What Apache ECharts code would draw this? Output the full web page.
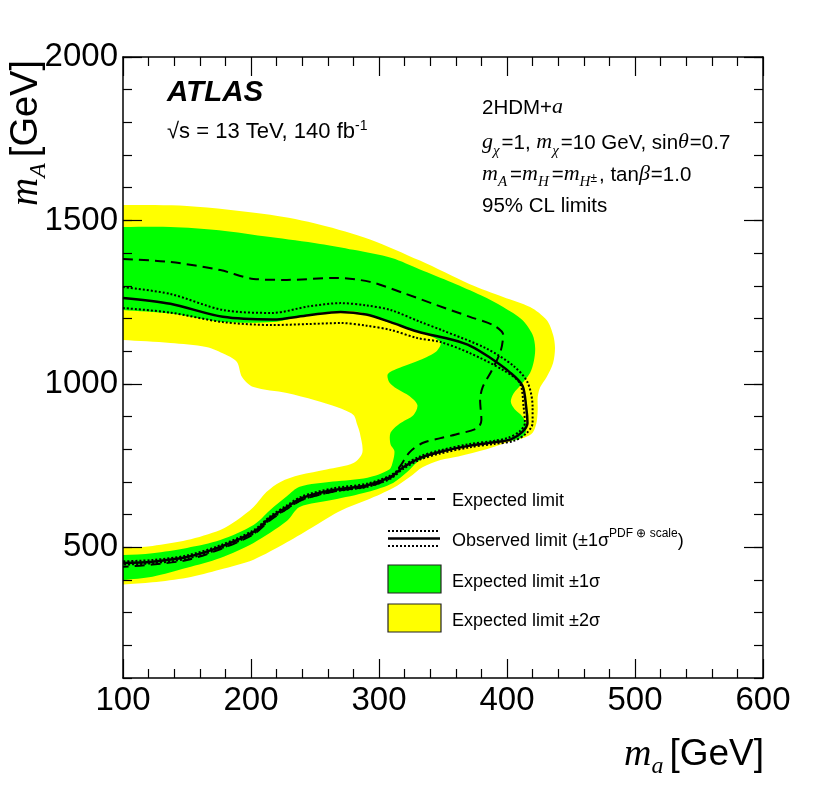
<!DOCTYPE html>
<html><head><meta charset="utf-8">
<script src="https://cdn.jsdelivr.net/npm/echarts@6/dist/echarts.min.js"></script>
<style>html,body{margin:0;padding:0;background:#fff}#c{width:822px;height:798px}</style>
</head><body><div id="c"></div>
<script>
// ---- data (m_a [GeV], m_A [GeV]); contours continue slightly past the left frame edge ----
const yMajorTicks = [500, 1000, 1500, 2000];
const plus2Sigma = [[92,1547],[100,1547],[150,1544],[215,1517],[254,1487],[293,1442],[332,1377],[371,1305],[397,1266],[418,1235],[431,1195],[436,1150],[437.5,1110],[436,1064],[431,1021],[426,990],[424,960],[424,920],[423,880],[420,850],[414,836],[404,826],[384,800],[362,778],[348,767],[334,745],[324,715],[311,681],[291,645],[270,612],[250,566],[228,515],[202,462],[176,432],[150,407],[123,393],[100,386],[92,385]];
const plus1Sigma = [[92,1480],[100,1480],[137,1480],[175,1470],[215,1449],[254,1428],[280,1410],[310,1385],[332,1350],[357,1310],[380,1270],[397,1235],[412,1195],[420,1150],[422,1110],[421,1070],[418,1033],[412,1002],[405,970],[403,945],[406,922],[412,900],[415,876],[414,845],[408,830],[392,822],[371,808],[363,804],[342,782],[330,761],[322,730],[311,697],[291,669],[264,645],[238,623],[228,580],[202,513],[176,467],[150,437],[123,410],[100,400],[92,398]];
const minus1Sigma = [[92,1229],[100,1226],[137,1215],[176,1190],[217,1189],[243,1211],[270,1223],[288,1217],[309,1186],[334,1155],[348,1128],[345,1100],[332,1073],[318,1052],[307,1030],[308,1005],[314,985],[324,962],[330,935],[327,905],[316,878],[309,850],[309,815],[312,795],[311,765],[308,738],[291,713],[264,701],[238,685],[228,656],[215,614],[202,568],[176,522],[150,498],[123,482],[100,476],[92,475]];
const minus2Sigma = [[92,1136],[100,1134],[137,1125],[165,1113],[180,1090],[189,1067],[193,1021],[202,990],[228,972],[250,950],[267,929],[280,905],[283,875],[285,850],[287,790],[280,758],[259,738],[238,721],[223,700],[212,669],[202,623],[189,583],[176,553],[150,522],[123,504],[100,498],[92,497]];
const expectedLimit = [[100,1382],[137,1373],[176,1348],[202,1321],[228,1318],[267,1324],[293,1312],[319,1278],[345,1241],[371,1205],[390,1178],[397,1150],[395,1100],[388,1040],[381,990],[379,950],[380,889],[377,865],[360,845],[348,834],[334,819],[324,791],[316,745],[309,712],[291,686],[264,670],[240,645],[228,617],[215,583],[202,540],[176,494],[150,461],[123,447],[100,440]];
const observedLimit = [[100,1263],[137,1245],[178,1205],[217,1197],[245,1210],[270,1220],[290,1212],[309,1189],[330,1160],[358,1134],[372,1115],[386,1082],[402,1036],[412,995],[415,929],[416,880],[412,853],[403,830],[390,821],[371,811],[348,792],[332,773],[319,745],[309,715],[291,690],[264,675],[240,651],[228,623],[215,590],[202,547],[176,501],[150,470],[123,456],[100,452]];
const observedUp = [[100,1296],[137,1275],[178,1226],[217,1217],[245,1237],[270,1247],[290,1240],[309,1226],[332,1190],[350,1163],[384,1108],[405,1055],[416,1005],[420,929],[420,880],[415,848],[405,825],[390,816],[371,806],[348,787],[332,768],[319,740],[309,710],[291,685],[264,670],[240,646],[228,618],[215,585],[202,542],[176,496],[150,465],[123,451],[100,447]];
const observedDown = [[100,1232],[137,1218],[178,1189],[217,1180],[245,1183],[270,1186],[290,1178],[309,1165],[330,1140],[348,1128],[371,1094],[397,1042],[410,1002],[413,929],[414,880],[410,855],[401,835],[390,826],[371,816],[348,797],[332,778],[319,750],[309,720],[291,695],[264,680],[240,656],[228,628],[215,595],[202,552],[176,506],[150,475],[123,461],[100,457]];

// ---- styling helpers ----
const SANS = "'Liberation Sans', Arial, Helvetica, sans-serif";
const SERIF = "'Liberation Serif', 'Times New Roman', serif";
const YELLOW = '#ffff00', GREEN = '#00ff00';
const mctx = document.createElement('canvas').getContext('2d');
function fontOf(kind, size) {
  if (kind === 'i') return 'italic ' + size + 'px ' + SERIF;
  if (kind === 'bi') return 'italic bold ' + size + 'px ' + SANS;
  return size + 'px ' + SANS;
}
function tw(font, t) { mctx.font = font; return mctx.measureText(t).width; }
// segs: [text, kind, size, dy, extraAdvance]
function layout(segs, x0, base, align) {
  let total = 0;
  const ws = segs.map(s => { const w = tw(fontOf(s[1], s[2]), s[0]) + (s[4] || 0); total += w; return w; });
  let x = align === 'right' ? x0 - total : x0;
  const els = [];
  segs.forEach((s, i) => {
    els.push({ type: 'text', x: x, y: base + (s[3] || 0) - 0.345 * s[2], silent: true,
      style: { text: s[0], font: fontOf(s[1], s[2]), fill: '#000', align: 'left', verticalAlign: 'middle' } });
    x += ws[i];
  });
  return els;
}

function polySeries(name, pts, color, z) {
  return { type: 'custom', name: name, coordinateSystem: 'cartesian2d', xAxisIndex: 0, yAxisIndex: 0,
    data: pts, encode: { x: 0, y: 1 }, clip: true, silent: true, z: z,
    renderItem: function (params, api) {
      if (params.dataIndex !== 0) return null;
      return { type: 'polygon', shape: { points: pts.map(p => api.coord(p)), smooth: 0.3 },
        style: { fill: color, stroke: null } };
    } };
}
function lineSeries(name, pts, width, type) {
  return { type: 'line', name: name, data: pts, xAxisIndex: 0, yAxisIndex: 0, smooth: 0.3,
    showSymbol: false, symbol: 'none', silent: true, clip: true, z: 6,
    lineStyle: { color: '#000', width: width, type: type } };
}

const axLine = { onZero: false, lineStyle: { color: '#000', width: 1.5 } };
const tickStyle = { color: '#000', width: 1.2 };
function xAx(pos, labels) {
  return { type: 'value', position: pos, min: 100, max: 600, interval: 100, z: 10,
    axisLine: axLine, splitLine: { show: false },
    axisTick: { inside: true, length: 19, lineStyle: tickStyle },
    minorTick: { show: true, splitNumber: 5, length: 9, lineStyle: tickStyle },
    axisLabel: labels ? { fontFamily: SANS, fontSize: 33, color: '#000', margin: 6 } : { show: false } };
}
function yAx(pos, labels) {
  return { type: 'value', position: pos, min: 100, max: 2000, interval: 100, z: 10,
    axisLine: axLine, splitLine: { show: false },
    axisTick: { inside: true, length: 9, lineStyle: tickStyle },
    axisLabel: labels ? { fontFamily: SANS, fontSize: 33, color: '#000', margin: 5,
      formatter: v => (yMajorTicks.indexOf(v) >= 0 ? String(v) : '') } : { show: false } };
}
function yMajor(pos) {
  return { type: 'value', position: pos, min: 100, max: 2000, interval: 100, z: 10,
    axisLine: { show: false }, splitLine: { show: false }, axisLabel: { show: false },
    axisTick: { inside: true, length: 19, lineStyle: tickStyle, customValues: yMajorTicks } };
}

// ---- texts ----
const g = [];
g.push(...layout([['ATLAS', 'bi', 29.5]], 167, 103));
g.push(...layout([['√s = 13 TeV, 140 fb', 's', 22], ['-1', 's', 14, -9]], 167, 140));
const RX = 482;
g.push(...layout([['2HDM+', 's', 20.5], ['a', 'i', 22]], RX, 115));
g.push(...layout([['g', 'i', 22], ['χ', 'i', 15, 6, 2], ['=1, ', 's', 20.5], ['m', 'i', 22], ['χ', 'i', 15, 6, 2],
  ['=10 GeV, sin', 's', 20.5], ['θ', 'i', 22, 0, 1], ['=0.7', 's', 20.5]], RX, 150));
g.push(...layout([['m', 'i', 22], ['A', 'i', 15, 5, 3], ['=', 's', 20.5], ['m', 'i', 22], ['H', 'i', 15, 5, 3], ['=', 's', 20.5],
  ['m', 'i', 22], ['H', 'i', 15, 5], ['±', 's', 12, 1, 2], [', tan', 's', 20.5], ['β', 'i', 22, 0, 1], ['=1.0', 's', 20.5]], RX, 182));
g.push(...layout([['95% CL limits', 's', 20.5]], RX, 213));
// x-axis title
g.push(...layout([['m', 'i', 38], ['a', 'i', 24, 7, 6], ['[GeV]', 's', 37]], 764, 768, 'right'));
// y-axis title (rotated)
g.push({ type: 'group', x: 40, y: 206, rotation: Math.PI / 2, silent: true,
  children: layout([['m', 'i', 39], ['A', 'i', 24, 7, 6], ['[GeV]', 's', 38]], 0, 0) });
// legend
const LX1 = 388, LX2 = 440, TX = 452;
g.push({ type: 'line', silent: true, shape: { x1: LX1, y1: 499, x2: LX2, y2: 499 },
  style: { stroke: '#000', lineWidth: 2, lineDash: [8, 5] } });
g.push({ type: 'line', silent: true, shape: { x1: LX1, y1: 531, x2: LX2, y2: 531 },
  style: { stroke: '#000', lineWidth: 2, lineDash: [2, 2] } });
g.push({ type: 'line', silent: true, shape: { x1: LX1, y1: 538.5, x2: LX2, y2: 538.5 },
  style: { stroke: '#000', lineWidth: 2.5 } });
g.push({ type: 'line', silent: true, shape: { x1: LX1, y1: 546, x2: LX2, y2: 546 },
  style: { stroke: '#000', lineWidth: 2, lineDash: [2, 2] } });
g.push({ type: 'rect', silent: true, shape: { x: LX1, y: 565, width: 53, height: 28 },
  style: { fill: GREEN, stroke: '#222', lineWidth: 1.2 } });
g.push({ type: 'rect', silent: true, shape: { x: LX1, y: 604, width: 53, height: 28 },
  style: { fill: YELLOW, stroke: '#222', lineWidth: 1.2 } });
g.push(...layout([['Expected limit', 's', 18]], TX, 507));
g.push(...layout([['Observed limit (±1σ', 's', 18], ['PDF ⊕ scale', 's', 12, -9], [')', 's', 18]], TX, 547));
g.push(...layout([['Expected limit ±1σ', 's', 18]], TX, 588));
g.push(...layout([['Expected limit ±2σ', 's', 18]], TX, 627));

const option = {
  animation: false,
  backgroundColor: '#fff',
  grid: { left: 123, top: 57, right: 59, bottom: 120 },
  xAxis: [xAx('bottom', true), xAx('top', false)],
  yAxis: [yAx('left', true), yMajor('left'), yAx('right', false), yMajor('right')],
  series: [
    polySeries('+2σ', plus2Sigma, YELLOW, 1),
    polySeries('+1σ', plus1Sigma, GREEN, 2),
    polySeries('-1σ', minus1Sigma, YELLOW, 3),
    polySeries('-2σ', minus2Sigma, '#ffffff', 4),
    lineSeries('Expected limit', expectedLimit, 2, [10, 6]),
    lineSeries('Observed +1σ', observedUp, 2, [2, 2]),
    lineSeries('Observed -1σ', observedDown, 2, [2, 2]),
    lineSeries('Observed limit', observedLimit, 2.5, 'solid')
  ],
  graphic: { elements: g.map(e => Object.assign({ z: 100 }, e)) }
};
const chart = echarts.init(document.getElementById('c'), null, { renderer: 'canvas' });
chart.setOption(option);
</script></body></html>
